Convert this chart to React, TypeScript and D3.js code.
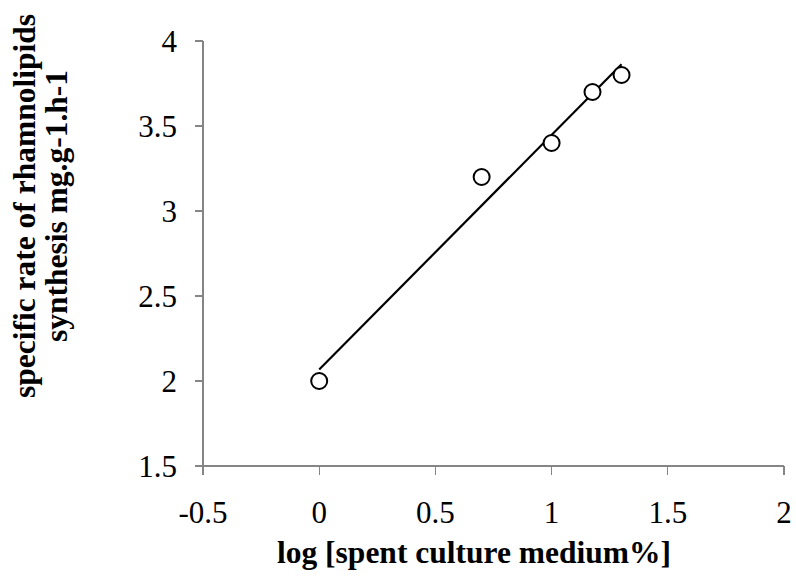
import React from "react";
import * as d3 from "d3";

// log10 of spent culture medium percentage (1, 5, 10, 15, 20 %)
const logMedium = [0, 0.699, 1, 1.176, 1.301];
// specific rate of rhamnolipids synthesis, mg.g-1.h-1
const synthesisRate = [2.0, 3.2, 3.4, 3.7, 3.8];

const xTicks = [-0.5, 0, 0.5, 1, 1.5, 2];
const yTicks = [1.5, 2, 2.5, 3, 3.5, 4];
const xTickLabels = ["-0.5", "0", "0.5", "1", "1.5", "2"];
const yTickLabels = ["1.5", "2", "2.5", "3", "3.5", "4"];

const xTitle = "log [spent culture medium%]";
const yTitleLines = ["specific rate of rhamnolipids", "synthesis mg.g-1.h-1"];

const W = 796;
const H = 584;
const serif = "'Liberation Serif', 'Times New Roman', serif";
const axisColor = "#858585";

// least-squares fit across the measured points
function linearFit(xs: number[], ys: number[]) {
  const mx = d3.mean(xs) as number;
  const my = d3.mean(ys) as number;
  let sxy = 0;
  let sxx = 0;
  xs.forEach((x, i) => {
    sxy += (x - mx) * (ys[i] - my);
    sxx += (x - mx) * (x - mx);
  });
  const slope = sxy / sxx;
  return { slope, intercept: my - slope * mx };
}

export default function App() {
  const x = d3.scaleLinear().domain([-0.5, 2]).range([203, 784]);
  const y = d3.scaleLinear().domain([1.5, 4]).range([466, 41]);

  const fit = linearFit(logMedium, synthesisRate);
  const [x0, x1] = d3.extent(logMedium) as [number, number];
  const trend: [number, number][] = [
    [x0, fit.intercept + fit.slope * x0],
    [x1, fit.intercept + fit.slope * x1],
  ];
  const lineGen = d3
    .line<[number, number]>()
    .x((d) => x(d[0]))
    .y((d) => y(d[1]));

  const points = logMedium.map((v, i) => ({ x: v, y: synthesisRate[i] }));

  return (
    <svg
      width={W}
      height={H}
      style={{ position: "absolute", left: 0, top: 0, background: "#fff" }}
    >
      {/* axes */}
      <g stroke={axisColor} strokeWidth={1.3} shapeRendering="crispEdges">
        <line x1={x(-0.5)} x2={x(2)} y1={y(1.5)} y2={y(1.5)} />
        <line x1={x(-0.5)} x2={x(-0.5)} y1={y(1.5)} y2={y(4)} />
        {xTicks.map((t) => (
          <line key={"xt" + t} x1={x(t)} x2={x(t)} y1={y(1.5)} y2={y(1.5) + 9} />
        ))}
        {yTicks.map((t) => (
          <line key={"yt" + t} x1={x(-0.5) - 8} x2={x(-0.5)} y1={y(t)} y2={y(t)} />
        ))}
      </g>

      {/* tick labels */}
      <g fontFamily={serif} fontSize={31} fill="#000">
        {xTicks.map((t, i) => (
          <text key={"xl" + t} x={x(t)} y={523} textAnchor="middle">
            {xTickLabels[i]}
          </text>
        ))}
        {yTicks.map((t, i) => (
          <text key={"yl" + t} x={177} y={y(t) + 11} textAnchor="end">
            {yTickLabels[i]}
          </text>
        ))}
      </g>

      {/* trend line */}
      <path d={lineGen(trend) || ""} fill="none" stroke="#000" strokeWidth={2.2} />

      {/* measured points */}
      {points.map((p, i) => (
        <circle
          key={"p" + i}
          cx={x(p.x)}
          cy={y(p.y)}
          r={8}
          fill="#fff"
          stroke="#000"
          strokeWidth={2}
        />
      ))}

      {/* axis titles */}
      <text
        x={474}
        y={563}
        textAnchor="middle"
        fontFamily={serif}
        fontWeight="bold"
        fontSize={31.5}
      >
        {xTitle}
      </text>
      <g transform="translate(0,206) rotate(-90)" fontFamily={serif} fontWeight="bold" fontSize={31.5}>
        <text x={0} y={35} textAnchor="middle">
          {yTitleLines[0]}
        </text>
        <text x={0} y={67} textAnchor="middle">
          {yTitleLines[1]}
        </text>
      </g>
    </svg>
  );
}
